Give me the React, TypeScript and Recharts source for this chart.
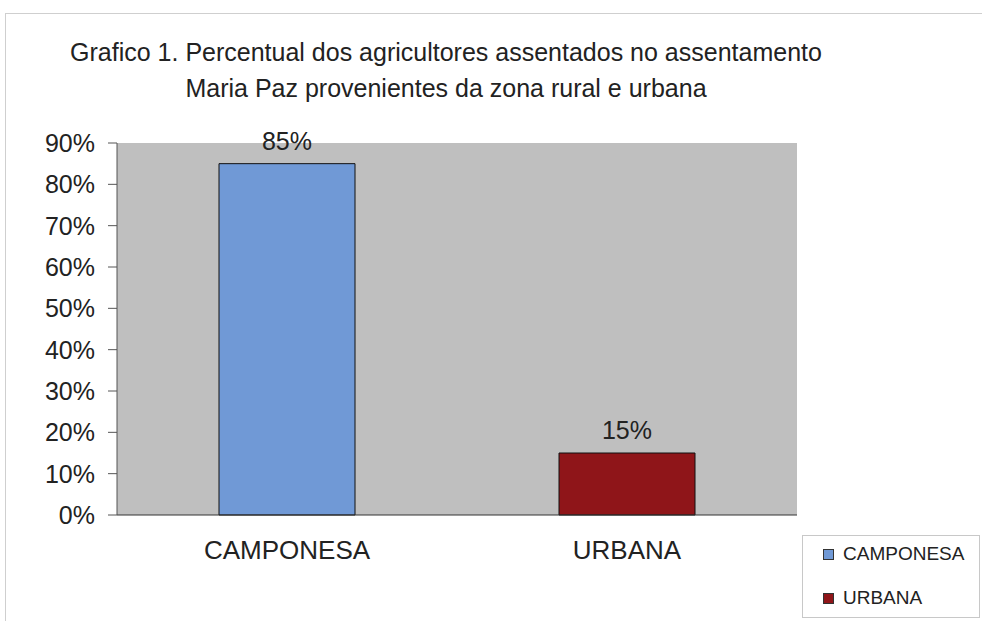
import React from "react";
import {
  BarChart,
  Bar,
  XAxis,
  YAxis,
  Cell,
  LabelList,
  CartesianGrid,
} from "recharts";

const categories = ["CAMPONESA", "URBANA"];
const shares = [0.85, 0.15];
const barColors = ["#7099d6", "#8f1519"];
const yTicks = [0, 0.1, 0.2, 0.3, 0.4, 0.5, 0.6, 0.7, 0.8, 0.9];
const edgeTicks = [0, 1, 2];

const data = categories.map((name, i) => ({ name, value: shares[i], edge: i + 0.5 }));

const font = "Arial, 'Liberation Sans', Helvetica, sans-serif";
const pct = (v: number) => `${Math.round(v * 100)}%`;

function LegendBox() {
  return (
    <div
      style={{
        position: "absolute",
        left: 802,
        top: 535,
        width: 178,
        height: 83,
        border: "1px solid #c8c8c8",
        boxSizing: "border-box",
        fontFamily: font,
        fontSize: 19,
        color: "#222",
        padding: "3px 0 0 20px",
      }}
    >
      {categories.map((c, i) => (
        <div key={c} style={{ display: "flex", alignItems: "center", height: 30, marginBottom: 14 }}>
          <span
            style={{
              display: "inline-block",
              width: 9,
              height: 9,
              background: barColors[i],
              border: "1px solid #333",
              marginRight: 9,
            }}
          />
          {c}
        </div>
      ))}
    </div>
  );
}

export default function App() {
  return (
    <div
      style={{
        position: "absolute",
        left: 0,
        top: 0,
        width: 982,
        height: 621,
        background: "#fff",
        fontFamily: font,
        overflow: "hidden",
      }}
    >
      <div
        style={{
          position: "absolute",
          left: 5,
          top: 13,
          width: 990,
          height: 620,
          border: "1px solid #cfcfcf",
          boxSizing: "border-box",
        }}
      />
      <div
        style={{
          position: "absolute",
          left: 0,
          width: 892,
          top: 34,
          textAlign: "center",
          fontSize: 25,
          lineHeight: "36px",
          color: "#222",
        }}
      >
        Grafico 1. Percentual dos agricultores assentados no assentamento
        <br />
        Maria Paz provenientes da zona rural e urbana
      </div>
      <BarChart
        width={982}
        height={621}
        data={data}
        margin={{ top: 143, right: 185, bottom: 75, left: 0 }}
        barCategoryGap="30%"
        style={{ position: "absolute", left: 0, top: 0 }}
      >
        <CartesianGrid fill="#bfbfbf" horizontal={false} vertical={false} />
        <XAxis
          dataKey="name"
          xAxisId="cat"
          axisLine={{ stroke: "#333" }}
          tickLine={false}
          tickMargin={20}
          tick={{ fontSize: 26, fill: "#222", fontFamily: font }}
        />
        <XAxis
          dataKey="edge"
          xAxisId="edges"
          type="number"
          domain={[0, 2]}
          ticks={edgeTicks}
          tick={false}
          axisLine={false}
          tickLine={{ stroke: "#555" }}
          tickSize={6}
          height={1}
        />
        <XAxis
          dataKey="edge"
          xAxisId="top"
          type="number"
          orientation="top"
          domain={[0, 2]}
          tick={false}
          tickLine={false}
          axisLine={{ stroke: "#555" }}
          height={0}
        />
        <YAxis
          domain={[0, 0.9]}
          ticks={yTicks}
          tickFormatter={pct}
          width={117}
          tickSize={9}
          tickMargin={13}
          axisLine={{ stroke: "#555" }}
          tickLine={{ stroke: "#555" }}
          tick={{ fontSize: 25, fill: "#222", fontFamily: font }}
          interval={0}
        />
        <YAxis
          yAxisId="right"
          orientation="right"
          domain={[0, 0.9]}
          tick={false}
          tickLine={false}
          axisLine={{ stroke: "#9a9a9a" }}
          width={0}
        />
        <Bar dataKey="value" xAxisId="cat" stroke="#111" strokeWidth={1} isAnimationActive={false}>
          {data.map((d, i) => (
            <Cell key={d.name} fill={barColors[i]} />
          ))}
          <LabelList
            dataKey="value"
            position="top"
            offset={14}
            formatter={(v: any) => pct(Number(v))}
            style={{ fontSize: 25, fill: "#222", fontFamily: font }}
          />
        </Bar>
      </BarChart>
      <LegendBox />
    </div>
  );
}
